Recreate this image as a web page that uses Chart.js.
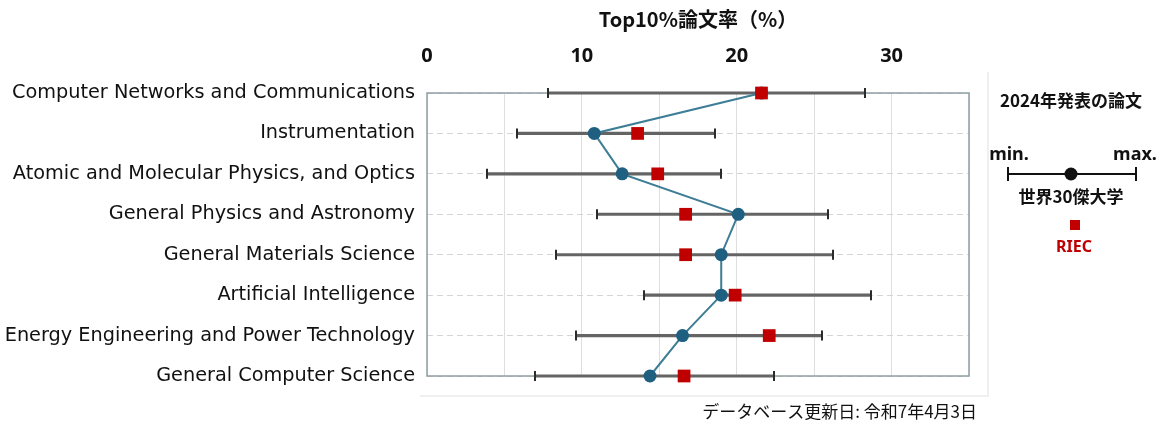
<!DOCTYPE html>
<html lang="ja">
<head>
<meta charset="utf-8">
<title>Top10%論文率</title>
<script src="https://cdn.jsdelivr.net/npm/chart.js@4.4.1/dist/chart.umd.min.js"></script>
<style>
  html, body { margin: 0; padding: 0; background: #ffffff; }
  #wrap { position: relative; width: 1164px; height: 425px; }
  canvas { display: block; }
</style>
</head>
<body>
<div id="wrap"><canvas id="chart" width="1164" height="425"></canvas></div>
<script>
// Research fields (top to bottom)
const categories = [
  'Computer Networks and Communications',
  'Instrumentation',
  'Atomic and Molecular Physics, and Optics',
  'General Physics and Astronomy',
  'General Materials Science',
  'Artificial Intelligence',
  'Energy Engineering and Power Technology',
  'General Computer Science'
];

// 世界30傑大学: range (min / max) and central value, Top10% paper ratio (%)
const top30Min = [7.8, 5.8, 3.9, 11.0, 8.3, 14.0, 9.6, 7.0];
const top30Max = [28.3, 18.6, 19.0, 25.9, 26.2, 28.7, 25.5, 22.4];
const top30Mid = [21.6, 10.8, 12.6, 20.1, 19.0, 19.0, 16.5, 14.4];

// RIEC, Top10% paper ratio (%)
const riecValues = [21.6, 13.6, 14.9, 16.7, 16.7, 19.9, 22.1, 16.6];

// Value axis
const axisMin = 0;
const axisMax = 35;
const gridStep = 5;
const labelStep = 10;

const rangeBars = top30Min.map((v, i) => [v, top30Max[i]]);

const FONT_LATIN = '"DejaVu Sans", "Noto Sans CJK JP", sans-serif';
const FONT_BOLD = '"Noto Sans", "Noto Sans CJK JP", sans-serif';
const FONT_JP = '"Noto Sans CJK JP", "Noto Sans", sans-serif';

// Plot frame, range-bar caps, and the side key / footnote
const decorations = {
  id: 'decorations',
  beforeDatasetsDraw(chart) {
    const { ctx, chartArea: a } = chart;
    ctx.save();
    // faint outer frame (right and bottom edges)
    ctx.strokeStyle = '#efefef';
    ctx.lineWidth = 2;
    ctx.beginPath();
    ctx.moveTo(988, 72);
    ctx.lineTo(988, 396);
    ctx.lineTo(420, 396);
    ctx.stroke();
    // plot frame
    ctx.strokeStyle = '#8f9ea3';
    ctx.lineWidth = 1.5;
    ctx.strokeRect(a.left, a.top, a.right - a.left, a.bottom - a.top);
    ctx.restore();
  },
  afterDatasetDraw(chart, args) {
    if (args.index !== 0) return;
    const { ctx } = chart;
    const xs = chart.scales.x, ys = chart.scales.y;
    ctx.save();
    ctx.strokeStyle = '#2b2b2b';
    ctx.lineWidth = 2;
    categories.forEach((c, i) => {
      const y = ys.getPixelForValue(i);
      [top30Min[i], top30Max[i]].forEach(v => {
        const x = Math.round(xs.getPixelForValue(v));
        ctx.beginPath();
        ctx.moveTo(x, y - 5);
        ctx.lineTo(x, y + 5);
        ctx.stroke();
      });
    });
    ctx.restore();
  },
  afterDraw(chart) {
    const { ctx } = chart;
    ctx.save();
    ctx.textAlign = 'center';
    ctx.textBaseline = 'middle';
    ctx.fillStyle = '#111111';

    ctx.font = 'bold 17px ' + FONT_JP;
    ctx.fillText('2024年発表の論文', 1071, 101);

    ctx.font = 'bold 18px ' + FONT_BOLD;
    ctx.fillText('min.', 1009, 155);
    ctx.fillText('max.', 1135, 155);

    // key: range bar with central dot
    ctx.strokeStyle = '#111111';
    ctx.lineWidth = 2;
    ctx.beginPath();
    ctx.moveTo(1008, 174); ctx.lineTo(1136, 174);
    ctx.moveTo(1008, 167); ctx.lineTo(1008, 181);
    ctx.moveTo(1136, 167); ctx.lineTo(1136, 181);
    ctx.stroke();
    ctx.beginPath();
    ctx.arc(1071, 174, 6.5, 0, Math.PI * 2);
    ctx.fill();

    ctx.font = 'bold 17px ' + FONT_JP;
    ctx.fillText('世界30傑大学', 1071, 197);

    // key: RIEC square
    ctx.fillStyle = '#c00000';
    ctx.fillRect(1070, 220, 10, 10);
    ctx.font = 'bold 16px ' + FONT_BOLD;
    ctx.fillText('RIEC', 1074, 247);

    // footnote
    ctx.fillStyle = '#111111';
    ctx.font = '17px ' + FONT_JP;
    ctx.textAlign = 'right';
    ctx.fillText('データベース更新日: 令和7年4月3日', 977, 412);
    ctx.restore();
  }
};

new Chart(document.getElementById('chart'), {
  type: 'bar',
  data: {
    labels: categories,
    datasets: [
      {
        label: '世界30傑大学 (min–max)',
        type: 'bar',
        data: rangeBars,
        backgroundColor: '#646464',
        barThickness: 2.5,
        clip: false,
        order: 3
      },
      {
        label: '世界30傑大学',
        type: 'line',
        data: top30Mid,
        borderColor: '#3d7d95',
        borderWidth: 2,
        tension: 0,
        pointStyle: 'circle',
        pointRadius: 6.5,
        pointBackgroundColor: '#1f5f80',
        pointBorderColor: '#1f5f80',
        pointBorderWidth: 0,
        clip: false,
        order: 2
      },
      {
        label: 'RIEC',
        type: 'line',
        data: riecValues,
        showLine: false,
        pointStyle: 'rect',
        pointRadius: 9,
        pointBackgroundColor: '#c00000',
        pointBorderColor: '#c00000',
        pointBorderWidth: 0,
        clip: false,
        order: 1
      }
    ]
  },
  options: {
    indexAxis: 'y',
    responsive: false,
    animation: false,
    events: [],
    layout: { padding: { left: 0, right: 195, top: 0, bottom: 49 } },
    plugins: {
      legend: { display: false },
      tooltip: { enabled: false }
    },
    scales: {
      x: {
        type: 'linear',
        position: 'top',
        min: axisMin,
        max: axisMax,
        border: { display: false },
        grid: { color: '#dedede', lineWidth: 1, drawTicks: false },
        ticks: {
          stepSize: gridStep,
          padding: 25,
          color: '#111111',
          font: { family: FONT_BOLD, size: 20, weight: 'bold' },
          callback: v => (v % labelStep === 0 ? String(v) : '')
        },
        title: {
          display: true,
          text: 'Top10%論文率（%）',
          color: '#111111',
          font: { family: FONT_JP, size: 20, weight: 'bold' },
          padding: { top: 7, bottom: 0 }
        },
        afterFit(scale) { scale.height = 93; }
      },
      y: {
        type: 'category',
        offset: false,
        grid: {
          offset: false,
          color: '#d4d4d4',
          lineWidth: 1,
          drawTicks: false
        },
        border: { display: false, dash: [6, 4] },
        ticks: {
          padding: 12,
          color: '#111111',
          font: { family: FONT_LATIN, size: 19.3 }
        },
        afterFit(scale) { scale.width = 427; }
      }
    }
  },
  plugins: [decorations]
});
</script>
</body>
</html>
